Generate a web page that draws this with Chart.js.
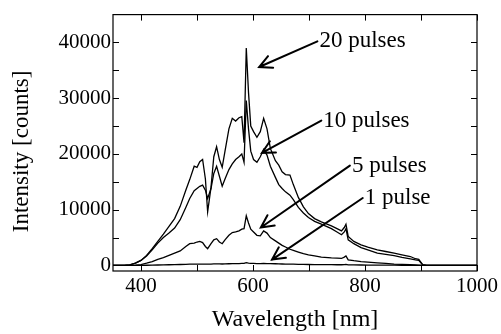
<!DOCTYPE html>
<html><head><meta charset="utf-8">
<script src="https://cdn.jsdelivr.net/npm/chart.js@4/dist/chart.umd.min.js"></script>
<style>html,body{margin:0;padding:0;background:#fff;overflow:hidden}#wrap{width:501px;height:334px;position:relative}</style>
</head><body><div id="wrap"><canvas id="c" width="501" height="334"></canvas></div>
<script>
// Wavelength grid [nm]
const wavelengths = [350,370,380,390,400,410,420,430,440,450,460,470,480,487,495,500,505,510,515,519,525,530,535,540,545,550,557,563,569,575,580,584,588,592,596,601,607,613,619,625,631,640,646,652,658,666,672,681,690,699,710,722,740,750,758,763,766,770,780,793,805,822,837,852,866,881,890,896,903,910,950,1000];
// Intensity [counts]
const pulses20 = [0,0,100,400,900,1800,3000,4300,5600,7000,8400,10600,13500,15400,17800,17600,18600,19000,15500,9600,14000,19500,21300,19000,17600,20500,24500,26400,25900,26500,26700,22000,39000,31000,25000,24000,23000,24000,26400,24500,21000,18800,18000,16800,16300,16200,14500,12200,10500,9300,8400,7800,7100,6600,6200,6800,7400,5200,4300,3700,3300,2800,2500,2200,1900,1600,1200,1100,150,0,0,0];
const pulses10 = [0,0,100,400,900,1700,2800,4000,5000,5800,6700,8200,10400,12000,13400,13800,14200,14400,13500,12000,13800,16500,17800,16000,14200,15500,17200,18200,19000,19500,20000,18500,29600,24500,20500,19000,18500,19500,20800,19800,17800,15800,14500,13800,13200,12600,11800,10400,9400,8600,7900,7400,6600,6000,5500,6000,6600,4600,3900,3200,2800,2200,2000,1750,1450,1170,1000,930,100,0,0,0];
const pulses5 = [0,0,0,50,150,400,700,1100,1400,1800,2200,2600,3400,3900,4000,4200,4300,4100,3400,3000,3900,4600,4800,4200,3900,4600,5400,5900,6000,6200,6500,6600,8900,7600,6500,6000,5400,5300,6200,5800,5000,4400,4000,3600,3300,2900,2700,2400,2100,1900,1700,1500,1350,1300,1250,1500,1700,1000,850,700,600,450,350,250,200,120,80,50,0,0,0,0];
const pulses1 = [0,0,0,0,0,30,50,80,100,120,150,170,200,220,230,240,250,250,230,220,250,270,280,270,260,280,300,320,330,340,360,360,500,430,380,360,340,340,360,340,320,300,280,260,250,230,220,200,180,170,150,140,130,120,120,150,180,100,90,80,70,60,50,40,30,20,15,10,0,0,0,0];
const seriesNames = ['20 pulses','10 pulses','5 pulses','1 pulse'];

// Axis ticks
const xTickValues = [400,500,600,700,800,900,1000];
const xTickLabels = ['400','','600','','800','','1000'];
const yTickValues = [0,5000,10000,15000,20000,25000,30000,35000,40000];
const yTickLabels = ['0','','10000','','20000','','30000','','40000'];

// Annotation arrows (data coordinates)
const arrowLabels = ['20 pulses','10 pulses','5 pulses','1 pulse'];
const arrowTailNm = [715,722,773,796];
const arrowTailCounts = [40200,26000,17900,12100];
const arrowTipNm = [611,616,614,634];
const arrowTipCounts = [35600,20200,6800,1050];

const SERIF = '"Liberation Serif","Times New Roman",serif';
const seriesValues = [pulses20, pulses10, pulses5, pulses1];

const framePlugin = {
  id:'frame',
  afterDraw(chart){
    const {ctx, chartArea:a, scales:{x,y}} = chart;
    ctx.save();
    ctx.strokeStyle = '#000';
    ctx.lineWidth = 1.2;
    ctx.strokeRect(a.left, a.top, a.right-a.left, a.bottom-a.top);
    const tl = 6;
    ctx.beginPath();
    xTickValues.forEach(v=>{
      const px = Math.round(x.getPixelForValue(v))+0.5;
      ctx.moveTo(px, a.bottom); ctx.lineTo(px, a.bottom-tl);
      ctx.moveTo(px, a.top); ctx.lineTo(px, a.top+tl);
    });
    yTickValues.forEach(v=>{
      const py = Math.round(y.getPixelForValue(v))+0.5;
      ctx.moveTo(a.left, py); ctx.lineTo(a.left+tl, py);
      ctx.moveTo(a.right, py); ctx.lineTo(a.right-tl, py);
    });
    ctx.lineWidth = 1;
    ctx.stroke();
    ctx.restore();
  }
};

const arrowPlugin = {
  id:'arrows',
  afterDatasetsDraw(chart){
    const {ctx, scales:{x,y}} = chart;
    ctx.save();
    ctx.strokeStyle = '#000';
    ctx.fillStyle = '#000';
    ctx.lineWidth = 2;
    ctx.lineCap = 'round';
    ctx.font = '23px ' + SERIF;
    ctx.textAlign = 'left';
    ctx.textBaseline = 'middle';
    arrowLabels.forEach((lab,i)=>{
      const x0 = x.getPixelForValue(arrowTailNm[i]), y0 = y.getPixelForValue(arrowTailCounts[i]);
      const x1 = x.getPixelForValue(arrowTipNm[i]), y1 = y.getPixelForValue(arrowTipCounts[i]);
      ctx.beginPath();
      ctx.moveTo(x0,y0); ctx.lineTo(x1,y1);
      const ang = Math.atan2(y0-y1, x0-x1);
      const L = 14, da = 0.47;
      ctx.moveTo(x1 + L*Math.cos(ang+da), y1 + L*Math.sin(ang+da));
      ctx.lineTo(x1,y1);
      ctx.lineTo(x1 + L*Math.cos(ang-da), y1 + L*Math.sin(ang-da));
      ctx.stroke();
      ctx.fillText(lab, x0+2, y0);
    });
    ctx.restore();
  }
};

new Chart(document.getElementById('c'), {
  type:'line',
  data:{
    datasets: seriesValues.map((vals,i)=>({
      label: seriesNames[i],
      data: wavelengths.map((w,j)=>({x:w, y:vals[j]})),
      borderColor:'#000',
      borderWidth:1.3,
      pointRadius:0,
      tension:0,
      fill:false
    }))
  },
  options:{
    responsive:false,
    animation:false,
    layout:{padding:{top:10,right:21,left:0,bottom:0}},
    plugins:{legend:{display:false}, tooltip:{enabled:false}},
    scales:{
      x:{
        type:'linear', min:350, max:1000,
        afterBuildTicks: s => { s.ticks = xTickValues.map(v=>({value:v})); },
        afterFit: s => { s.height = 63; },
        ticks:{
          autoSkip:false, maxRotation:0, padding:3, color:'#000',
          font:{family:SERIF, size:21},
          callback: v => xTickLabels[xTickValues.indexOf(v)] ?? ''
        },
        grid:{display:false, drawTicks:false},
        border:{display:false},
        title:{display:true, text:'Wavelength [nm]', color:'#000', font:{family:SERIF, size:24}, padding:{top:0,bottom:0}}
      },
      y:{
        type:'linear', min:-1000, max:45000,
        afterBuildTicks: s => { s.ticks = yTickValues.map(v=>({value:v})); },
        afterFit: s => { s.width = 113; },
        ticks:{
          autoSkip:false, padding:2, color:'#000',
          font:{family:SERIF, size:21},
          callback: v => yTickLabels[yTickValues.indexOf(v)] ?? ''
        },
        grid:{display:false, drawTicks:false},
        border:{display:false},
        title:{display:true, text:'Intensity [counts]   ', color:'#000', font:{family:SERIF, size:23}, padding:{top:8,bottom:0}}
      }
    }
  },
  plugins:[framePlugin, arrowPlugin]
});
</script></body></html>
